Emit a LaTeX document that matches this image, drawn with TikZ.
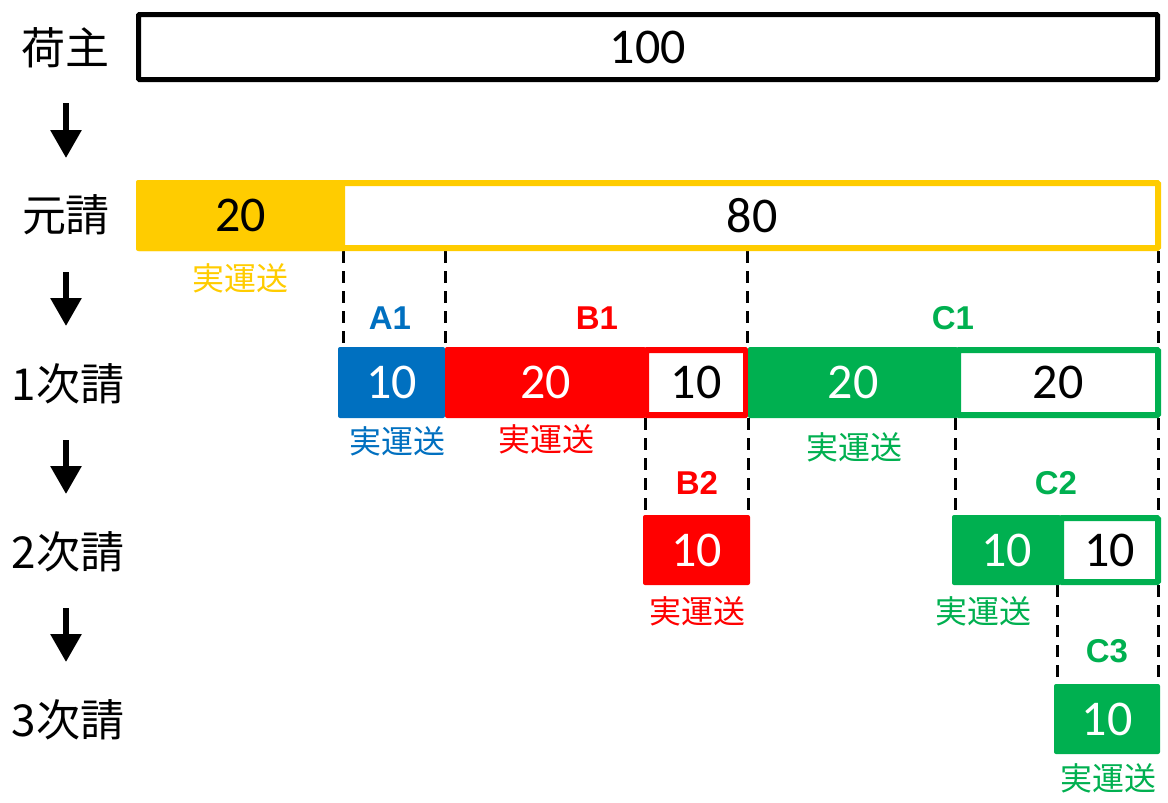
\documentclass[tikz,border=0pt]{standalone}
\usepackage{fontspec}
\usetikzlibrary{arrows.meta}
\newfontfamily\jp{Noto Sans CJK JP}
\newfontfamily\numf{Carlito}
\newfontfamily\labf{Liberation Sans}
\definecolor{cy}{HTML}{FFCC00}
\definecolor{cb}{HTML}{0070C0}
\definecolor{cr}{HTML}{FF0000}
\definecolor{cg}{HTML}{00B050}
\begin{document}
\begin{tikzpicture}[x=1pt,y=-1pt,
  rowlab/.style={font=\jp\fontsize{44}{44}\selectfont, inner sep=0pt, outer sep=0pt},
  fillbox/.style={fill=#1, draw=none, inner sep=0pt, outer sep=0pt, text=white,
    font=\numf\fontsize{50}{50}\selectfont, rounded corners=2pt},
  outbox/.style={draw=#1, line width=6pt, fill=white, inner sep=0pt, outer sep=0pt,
    text=black, font=\numf\fontsize{50}{50}\selectfont, rounded corners=1pt},
  numtxt/.style={text=black, font=\numf\fontsize{50}{50}\selectfont, inner sep=0pt},
  idlab/.style={font=\labf\bfseries\fontsize{33}{33}\selectfont, text=#1, inner sep=0pt},
  jisso/.style={font=\jp\fontsize{32}{32}\selectfont, text=#1, inner sep=0pt},
  dashline/.style={line width=3pt, dash pattern=on 12pt off 8pt},
  arr/.style={line width=6pt, -{Triangle[width=30pt,length=28pt]}}
]
\useasboundingbox[fill=white] (0,0) rectangle (1168,803);

% row labels
\node[rowlab] (r0) at (65,48) {荷主};
\node[rowlab] (r1) at (66,215) {元請};
\node[rowlab] (r2) at (68,384) {1次請};
\node[rowlab] (r3) at (68,552) {2次請};
\node[rowlab] (r4) at (68,720) {3次請};

% arrows
\coordinate (a0s) at (66,103); \coordinate (a0e) at (66,158);
\coordinate (a1s) at (66,272); \coordinate (a1e) at (66,326);
\coordinate (a2s) at (66,440); \coordinate (a2e) at (66,494);
\coordinate (a3s) at (66,608); \coordinate (a3e) at (66,662);
\draw[arr] (a0s) -- (a0e);
\draw[arr] (a1s) -- (a1e);
\draw[arr] (a2s) -- (a2e);
\draw[arr] (a3s) -- (a3e);

% dashed guides
\foreach \n/\x/\ya/\yb in {d1/343/251/347, d2/445/251/347, d3/747/251/347, d4/1158/251/347,
  d5/645/418/515, d6/748/418/515, d7/955/418/515, d8/1158/418/515,
  d9/1057/585/684, d10/1158/585/684}{
  \coordinate (\n t) at (\x,\ya);
  \coordinate (\n b) at (\x,\yb);
  \draw[dashline] (\n t) -- (\n b);
}

% shipper
\node[outbox=black, line width=5pt, minimum width=1019pt, minimum height=65pt] (ninushi) at (648,47) {100};

% prime contractor
\node[outbox=cy, minimum width=1019pt, minimum height=65pt] (moto) at (648.5,215.5) {};
\node[fillbox=cy, text=black, minimum width=209pt, minimum height=71pt] (moto20) at (240.5,215.5) {20};
\node[numtxt] (moto80) at (752,215.5) {80};
\node[jisso=cy] (j0) at (240,278) {実運送};

% first tier
\node[idlab=cb] (A1) at (390,318) {A1};
\node[idlab=cr] (B1) at (597,318) {B1};
\node[idlab=cg] (C1) at (953,318) {C1};
\node[fillbox=cb, minimum width=107pt, minimum height=71pt] (a1) at (391.5,382.5) {10};
\node[outbox=cr, minimum width=100pt, minimum height=65pt] (b1o) at (696,382.5) {10};
\node[fillbox=cr, minimum width=201pt, minimum height=71pt] (b1f) at (545.5,382.5) {20};
\node[outbox=cg, minimum width=200pt, minimum height=65pt] (c1o) at (1058,382.5) {20};
\node[fillbox=cg, minimum width=210pt, minimum height=71pt] (c1f) at (853,382.5) {20};
\node[jisso=cb] (j1) at (397,441) {実運送};
\node[jisso=cr] (j2) at (546,439) {実運送};
\node[jisso=cg] (j3) at (854,447) {実運送};

% second tier
\node[idlab=cr] (B2) at (697,483) {B2};
\node[idlab=cg] (C2) at (1056,483) {C2};
\node[fillbox=cr, minimum width=107pt, minimum height=70pt] (b2) at (696.5,550) {10};
\node[outbox=cg, minimum width=97pt, minimum height=64pt] (c2o) at (1109.5,550) {10};
\node[fillbox=cg, minimum width=109pt, minimum height=70pt] (c2f) at (1006.5,550) {10};
\node[jisso=cr] (j4) at (697,611) {実運送};
\node[jisso=cg] (j5) at (983,611) {実運送};

% third tier
\node[idlab=cg] (C3) at (1107,651) {C3};
\node[fillbox=cg, minimum width=106pt, minimum height=70pt] (c3) at (1107,719) {10};
\node[jisso=cg] (j6) at (1108,778) {実運送};
\end{tikzpicture}
\end{document}
